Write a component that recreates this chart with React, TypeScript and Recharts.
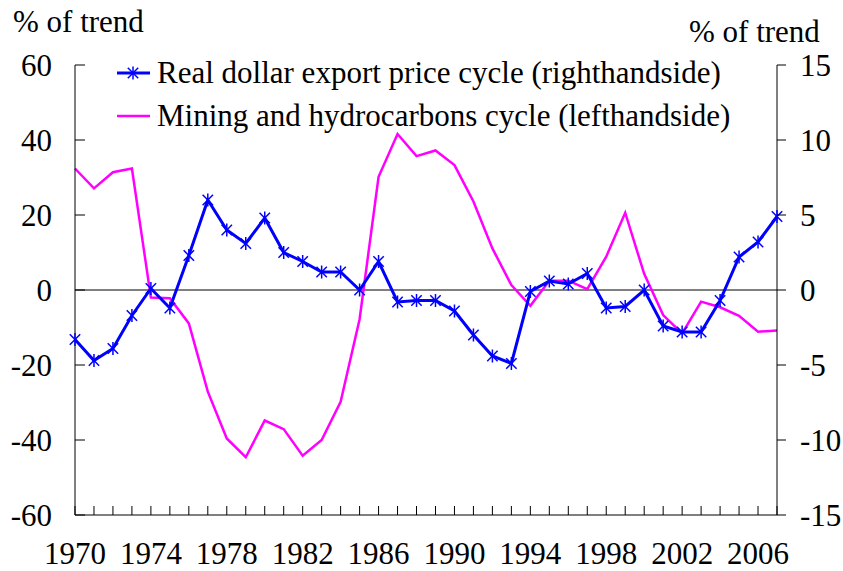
import React from "react";
import { LineChart, Line, XAxis, YAxis, ReferenceLine } from "recharts";

const years = [
  1970, 1971, 1972, 1973, 1974, 1975, 1976, 1977, 1978, 1979, 1980, 1981, 1982,
  1983, 1984, 1985, 1986, 1987, 1988, 1989, 1990, 1991, 1992, 1993, 1994, 1995,
  1996, 1997, 1998, 1999, 2000, 2001, 2002, 2003, 2004, 2005, 2006, 2007,
];

// real dollar export price cycle, righthand axis
const exportPrice = [
  -3.3, -4.7, -3.9, -1.7, 0.1, -1.2, 2.3, 6.0, 4.0, 3.1, 4.8, 2.5, 1.9,
  1.2, 1.2, 0.0, 1.9, -0.8, -0.7, -0.7, -1.4, -3.0, -4.4, -4.9, -0.1, 0.6,
  0.4, 1.1, -1.2, -1.1, 0.0, -2.4, -2.8, -2.8, -0.7, 2.2, 3.2, 4.9,
];

// mining and hydrocarbons cycle, lefthand axis
const mining = [
  32.4, 27.1, 31.4, 32.4, -2.0, -2.2, -8.9, -27.1, -39.6, -44.6, -34.8, -37.1, -44.2,
  -40.0, -29.8, -7.8, 30.2, 41.6, 35.7, 37.2, 33.3, 23.6, 11.1, 1.3, -4.2, 2.5,
  2.5, 0.2, 8.9, 20.6, 4.3, -6.7, -11.6, -3.1, -4.6, -6.9, -11.1, -10.8,
];

const leftTicks = [-60, -40, -20, 0, 20, 40, 60];
const rightTicks = [-15, -10, -5, 0, 5, 10, 15];
const labelYears = [1970, 1974, 1978, 1982, 1986, 1990, 1994, 1998, 2002, 2006];

const data = years.map((year, i) => ({ year, exportPrice: exportPrice[i], mining: mining[i] }));

const FONT = '"Liberation Serif", Tinos, "Times New Roman", serif';
const FS = 31;
const BLUE = "#0000FF";
const MAGENTA = "#FF00FF";

const Star = ({ cx, cy, r = 6.5 }: { cx: number; cy: number; r?: number }) => {
  if (cx == null || cy == null) return null;
  const d = r * 0.8;
  return (
    <g stroke={BLUE} strokeWidth={1.5}>
      <line x1={cx} y1={cy - r} x2={cx} y2={cy + r} />
      <line x1={cx - d} y1={cy - d} x2={cx + d} y2={cy + d} />
      <line x1={cx - d} y1={cy + d} x2={cx + d} y2={cy - d} />
    </g>
  );
};

const XTick = (props: any) => {
  const { x, y, payload } = props;
  const show = labelYears.includes(payload.value);
  return (
    <g>
      <line x1={x} y1={y} x2={x} y2={y - 9} stroke="#000" strokeWidth={1} />
      {show && (
        <text x={x} y={y + 49} textAnchor="middle" style={{ fontFamily: FONT, fontSize: FS }} fill="#000">
          {payload.value}
        </text>
      )}
    </g>
  );
};

const LeftTick = (props: any) => {
  const { x, y, payload } = props;
  return (
    <g>
      <line x1={x} y1={y} x2={x + 10} y2={y} stroke="#000" strokeWidth={1} />
      <text x={x - 23} y={y} dy="0.35em" textAnchor="end" style={{ fontFamily: FONT, fontSize: FS }} fill="#000">
        {payload.value}
      </text>
    </g>
  );
};

const RightTick = (props: any) => {
  const { x, y, payload } = props;
  return (
    <g>
      <line x1={x} y1={y} x2={x + 9} y2={y} stroke="#000" strokeWidth={1} />
      <text x={x + 23} y={y} dy="0.35em" textAnchor="start" style={{ fontFamily: FONT, fontSize: FS }} fill="#000">
        {payload.value}
      </text>
    </g>
  );
};

const ChartLegend = () => (
  <div
    style={{
      position: "absolute",
      left: 114,
      top: 51,
      fontFamily: FONT,
      fontSize: FS,
      color: "#000",
      lineHeight: "43px",
    }}
  >
    <div style={{ display: "flex", alignItems: "center", height: 43 }}>
      <svg width={40} height={20} style={{ marginRight: 3 }}>
        <line x1={3} y1={10} x2={36} y2={10} stroke={BLUE} strokeWidth={3} />
        <Star cx={19} cy={10} />
      </svg>
      <span style={{ whiteSpace: "nowrap" }}>Real dollar export price cycle (righthandside)</span>
    </div>
    <div style={{ display: "flex", alignItems: "center", height: 43 }}>
      <svg width={40} height={20} style={{ marginRight: 3 }}>
        <line x1={3} y1={10} x2={36} y2={10} stroke={MAGENTA} strokeWidth={2.5} />
      </svg>
      <span style={{ whiteSpace: "nowrap" }}>Mining and hydrocarbons cycle (lefthandside)</span>
    </div>
  </div>
);

export default function App() {
  return (
    <div style={{ position: "absolute", top: 0, left: 0, width: 843, height: 571, background: "#fff" }}>
      <LineChart width={843} height={571} data={data} margin={{ top: 65, right: 0, bottom: 0, left: 0 }}>
        <XAxis
          dataKey="year"
          type="number"
          domain={[1970, 2007]}
          ticks={years}
          interval={0}
          tick={<XTick />}
          tickLine={false}
          tickSize={0}
          tickMargin={0}
          height={56}
          axisLine={{ stroke: "#000", strokeWidth: 1 }}
        />
        <YAxis
          yAxisId="left"
          orientation="left"
          domain={[-60, 60]}
          ticks={leftTicks}
          interval={0}
          tick={<LeftTick />}
          tickLine={false}
          tickSize={0}
          tickMargin={0}
          width={75}
          axisLine={{ stroke: "#000", strokeWidth: 1 }}
        />
        <YAxis
          yAxisId="right"
          orientation="right"
          domain={[-15, 15]}
          ticks={rightTicks}
          interval={0}
          tick={<RightTick />}
          tickLine={false}
          tickSize={0}
          tickMargin={0}
          width={66}
          axisLine={{ stroke: "#000", strokeWidth: 1 }}
        />
        <ReferenceLine yAxisId="left" y={0} stroke="#000" strokeWidth={1} />
        <Line
          yAxisId="left"
          dataKey="mining"
          stroke={MAGENTA}
          strokeWidth={2.5}
          dot={false}
          activeDot={false}
          isAnimationActive={false}
        />
        <Line
          yAxisId="right"
          dataKey="exportPrice"
          stroke={BLUE}
          strokeWidth={3}
          dot={(p: any) => <Star key={`s-${p.index}`} cx={p.cx} cy={p.cy} />}
          activeDot={false}
          isAnimationActive={false}
        />
      </LineChart>
      <div style={{ position: "absolute", left: 13, top: 4, fontFamily: FONT, fontSize: FS, whiteSpace: "nowrap" }}>
        % of trend
      </div>
      <div style={{ position: "absolute", left: 689, top: 14, fontFamily: FONT, fontSize: FS, whiteSpace: "nowrap" }}>
        % of trend
      </div>
      <ChartLegend />
    </div>
  );
}
